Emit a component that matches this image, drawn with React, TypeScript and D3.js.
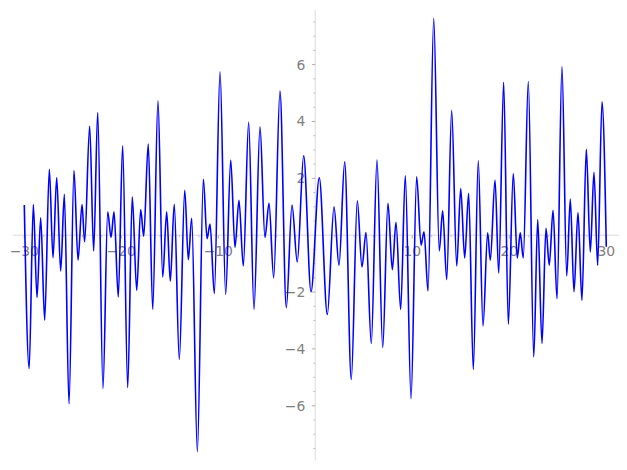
import React from "react";
import * as d3 from "d3";

// Extrema of the plotted curve (x, y)
const xs: number[] = [
  -30, -29.5, -29.07, -28.69, -28.31, -27.9, -27.42, -27.04, -26.66, -26.25,
  -25.87, -25.39, -24.88, -24.46, -24.05, -23.78, -23.26, -22.85, -22.43, -21.89,
  -21.4, -21.06, -20.75, -20.31, -19.86, -19.34, -18.87, -18.41, -18.0, -17.69,
  -17.22, -16.76, -16.22, -15.73, -15.32, -14.95, -14.54, -14.02, -13.46, -13.09,
  -12.74, -12.16, -11.54, -11.16, -10.85, -10.41, -9.82, -9.24, -8.72, -8.28,
  -7.87, -7.42, -6.87, -6.32, -5.7, -5.19, -4.77, -4.29, -3.64, -2.99,
  -2.4, -1.86, -1.2, -0.44, 0.41, 1.24, 1.93, 2.44, 3.03, 3.71,
  4.33, 4.81, 5.23, 5.77, 6.36, 6.95, 7.49, 7.94, 8.32, 8.8,
  9.28, 9.87, 10.45, 10.9, 11.21, 11.62, 12.21, 12.78, 13.13, 13.55,
  14.06, 14.58, 14.99, 15.4, 15.81, 16.29, 16.8, 17.29, 17.77, 18.04,
  18.53, 18.91, 19.42, 19.9, 20.41, 20.82, 21.13, 21.44, 21.96, 22.52,
  22.93, 23.37, 23.78, 24.12, 24.51, 24.92, 25.43, 25.92, 26.29, 26.67,
  27.08, 27.49, 27.94, 28.35, 28.73, 29.11, 29.56, 30.0,
];
const ys: number[] = [
  1.06, -4.69, 1.08, -2.19, 0.61, -2.99, 2.32, -0.79, 2.03, -1.26,
  1.44, -5.93, 2.27, -0.88, 1.08, -0.23, 3.84, -0.55, 4.31, -5.4,
  0.82, -0.08, 0.82, -2.17, 3.14, -5.36, 1.35, -1.94, 0.9, -0.04,
  3.21, -2.61, 4.73, -1.47, 0.82, -1.62, 1.09, -4.37, 1.58, -0.86,
  0.59, -7.61, 1.97, -0.12, 0.39, -2.05, 5.75, -2.08, 2.64, -0.43,
  1.23, -1.08, 3.97, -2.61, 3.81, -0.08, 1.12, -1.5, 5.07, -2.55,
  1.06, -0.94, 2.79, -1.99, 2.02, -2.79, 1.0, -1.06, 2.58, -5.07,
  1.21, -1.12, 0.09, -3.81, 2.64, -3.95, 1.12, -1.21, 0.45, -2.61,
  2.09, -5.75, 2.05, -0.35, 0.12, -1.96, 7.63, -0.55, 0.86, -1.56,
  4.38, -1.08, 1.64, -0.8, 1.47, -4.72, 2.62, -3.19, 0.08, -0.88,
  1.94, -1.33, 5.38, -3.13, 2.17, -0.8, 0.08, -0.8, 5.4, -4.28,
  0.55, -3.81, 0.24, -1.06, 0.88, -2.23, 5.93, -1.43, 1.27, -1.99,
  0.8, -2.29, 3.02, -0.59, 2.21, -1.06, 4.69, -0.41,
];

const xMajorTicks: number[] = [-30, -20, -10, 10, 20, 30];
const xMinorTicks: number[] = [
  -28, -26, -24, -22, -18, -16, -14, -12, -8, -6, -4, -2,
  2, 4, 6, 8, 12, 14, 16, 18, 22, 24, 26, 28,
];
const yMajorTicks: number[] = [-6, -4, -2, 2, 4, 6];
const yMinorTicks: number[] = [
  -7.5, -7, -6.5, -5.5, -5, -4.5, -3.5, -3, -2.5, -1.5, -1, -0.5,
  0.5, 1, 1.5, 2.5, 3, 3.5, 4.5, 5, 5.5, 6.5, 7, 7.5,
];
const xAxisExtent: number[] = [-31.2, 31.3];
const yAxisExtent: number[] = [-7.92, 7.92];

const W = 627;
const H = 470;

export default function App() {
  const x = d3.scaleLinear().domain([-30, 30]).range([24.3, 606.3]);
  const y = d3.scaleLinear().domain([-6, 6]).range([405.8, 64.6]);

  const pts: [number, number][] = xs.map((v, i) => [v, ys[i]]);
  const line = d3
    .line<[number, number]>()
    .x((d) => x(d[0]))
    .y((d) => y(d[1]))
    .curve(d3.curveMonotoneX);

  const fmt = (v: number) => (v < 0 ? "\u2212" + Math.abs(v) : String(v));
  const axisColor = "#e6e6e6";
  const tickColor = "#9a9a9a";
  const labelColor = "#808080";
  const fontFamily = "'DejaVu Sans', sans-serif";
  const fontSize = 13.9;

  const x0 = x(0);
  const y0 = y(0);

  return (
    <svg
      width={W}
      height={H}
      style={{ position: "absolute", left: 0, top: 0, background: "#fff" }}
    >
      {/* axes lines */}
      <line
        x1={x(xAxisExtent[0])}
        x2={x(xAxisExtent[1])}
        y1={y0}
        y2={y0}
        stroke={axisColor}
        strokeWidth={1.5}
      />
      <line
        x1={x0}
        x2={x0}
        y1={y(yAxisExtent[1])}
        y2={y(yAxisExtent[0])}
        stroke={axisColor}
        strokeWidth={1.5}
      />
      {/* x ticks */}
      {xMajorTicks.map((t) => (
        <g key={"xm" + t}>
          <line x1={x(t)} x2={x(t)} y1={y0} y2={y0 + 3.5} stroke={tickColor} strokeWidth={0.8} />
          <text
            x={x(t)}
            y={y0 + 21}
            textAnchor="middle"
            fontFamily={fontFamily}
            fontSize={fontSize}
            fill={labelColor}
          >
            {fmt(t)}
          </text>
        </g>
      ))}
      {xMinorTicks.map((t) => (
        <line key={"xn" + t} x1={x(t)} x2={x(t)} y1={y0} y2={y0 + 2} stroke={tickColor} strokeWidth={0.6} />
      ))}
      {/* y ticks */}
      {yMajorTicks.map((t) => (
        <g key={"ym" + t}>
          <line x1={x0 - 3.5} x2={x0} y1={y(t)} y2={y(t)} stroke={tickColor} strokeWidth={0.8} />
          <text
            x={x0 - 10}
            y={y(t)}
            dy="0.36em"
            textAnchor="end"
            fontFamily={fontFamily}
            fontSize={fontSize}
            fill={labelColor}
          >
            {fmt(t)}
          </text>
        </g>
      ))}
      {yMinorTicks.map((t) => (
        <line key={"yn" + t} x1={x0 - 2} x2={x0} y1={y(t)} y2={y(t)} stroke={tickColor} strokeWidth={0.6} />
      ))}
      {/* curve */}
      <path d={line(pts) || ""} fill="none" stroke="#0000ff" strokeWidth={1.6} strokeLinejoin="round" />
    </svg>
  );
}
